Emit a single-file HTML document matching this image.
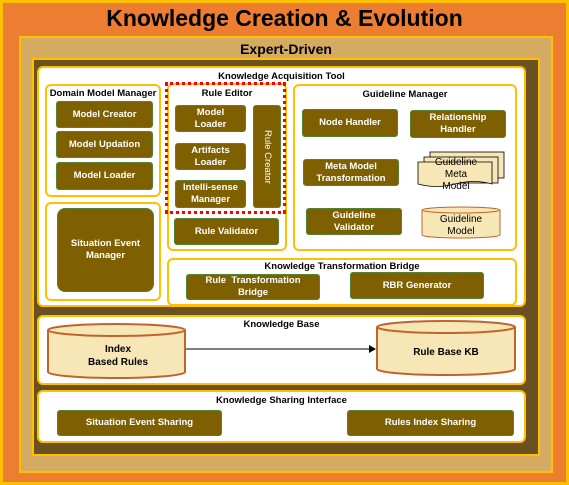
<!DOCTYPE html><html><head><style>
*{margin:0;padding:0;box-sizing:border-box}
body{width:569px;height:485px;position:relative;overflow:hidden;font-family:"Liberation Sans",sans-serif;background:#ED7D31}
div{position:absolute}
.w{background:#fff;border:2px solid #FFC000;border-radius:6px}
.b{background:#7F6000;border:1px solid #548235;border-radius:3px;color:#fff;font-weight:bold;font-size:9.5px;display:flex;align-items:center;justify-content:center;text-align:center;line-height:12px}
.l{font-size:9.5px;font-weight:bold;color:#000;text-align:center;white-space:nowrap}
</style></head><body>
<div style="left:0;top:0;width:569px;height:485px;border:3px solid #FFC000"></div>
<div class="l" style="left:0;top:4px;width:569px;font-size:23px;line-height:28px">Knowledge Creation &amp; Evolution</div>
<div style="left:19px;top:36px;width:534px;height:437px;background:#D5AB61;border:2px solid #FFC000"></div>
<div class="l" style="left:19px;top:41px;width:534px;font-size:14px">Expert-Driven</div>
<div style="left:32px;top:58px;width:508px;height:398px;background:#6B5020;border:2px solid #FFC000"></div>

<div class="w" style="left:37px;top:66px;width:489px;height:241px"></div>
<div class="l" style="left:37px;top:71px;width:489px">Knowledge Acquisition Tool</div>

<div class="w" style="left:45px;top:84px;width:116px;height:113px"></div>
<div class="l" style="left:45px;top:88px;width:116px">Domain Model Manager</div>
<div class="b" style="left:56px;top:101px;width:97px;height:27px">Model Creator</div>
<div class="b" style="left:56px;top:131px;width:97px;height:27px">Model Updation</div>
<div class="b" style="left:56px;top:162px;width:97px;height:28px">Model Loader</div>

<div class="w" style="left:45px;top:202px;width:116px;height:99px"></div>
<div class="b" style="left:57px;top:208px;width:97px;height:84px;border-radius:8px">Situation Event<br>Manager</div>

<div class="w" style="left:167px;top:83px;width:120px;height:168px"></div>
<div style="left:165px;top:82px;width:121px;height:132px;border:3px dotted #F00"></div>
<div class="l" style="left:167px;top:88px;width:120px">Rule Editor</div>
<div class="b" style="left:175px;top:105px;width:71px;height:27px">Model<br>Loader</div>
<div class="b" style="left:175px;top:143px;width:71px;height:27px">Artifacts<br>Loader</div>
<div class="b" style="left:175px;top:180px;width:71px;height:28px">Intelli-sense<br>Manager</div>
<div class="b" style="left:253px;top:105px;width:28px;height:103px"><span style="writing-mode:vertical-rl;font-weight:normal">Rule Creator</span></div>
<div class="b" style="left:174px;top:218px;width:105px;height:27px">Rule Validator</div>

<div class="w" style="left:293px;top:84px;width:224px;height:167px"></div>
<div class="l" style="left:293px;top:89px;width:224px">Guideline Manager</div>
<div class="b" style="left:302px;top:109px;width:96px;height:28px">Node Handler</div>
<div class="b" style="left:410px;top:110px;width:96px;height:28px">Relationship<br>Handler</div>
<div class="b" style="left:303px;top:159px;width:96px;height:27px">Meta Model<br>Transformation</div>
<div class="b" style="left:306px;top:208px;width:96px;height:27px">Guideline<br>Validator</div>
<svg style="position:absolute;left:0;top:0" width="569" height="485">
<g fill="#F7E6B6" stroke="#000" stroke-width="0.8">
<rect x="430" y="152" width="74" height="26"/>
<rect x="424" y="157" width="74" height="26"/>
<path d="M418 162h74v22q-18 -5 -37 0t-37 0z"/>
</g>
<text x="456" y="165" font-family="Liberation Sans" font-size="10" text-anchor="middle">Guideline</text>
<text x="456" y="177" font-family="Liberation Sans" font-size="10" text-anchor="middle">Meta</text>
<text x="456" y="189" font-family="Liberation Sans" font-size="10" text-anchor="middle">Model</text>
<g fill="#F7E6B6" stroke="#C0652A" stroke-width="1">
<path d="M422 210v25a39 3 0 0 0 78 0v-25"/><ellipse cx="461" cy="210" rx="39" ry="3"/>
</g>
<text x="461" y="222" font-family="Liberation Sans" font-size="10" text-anchor="middle">Guideline</text>
<text x="461" y="234" font-family="Liberation Sans" font-size="10" text-anchor="middle">Model</text>
</svg>

<div class="w" style="left:167px;top:258px;width:350px;height:48px"></div>
<div class="l" style="left:167px;top:261px;width:350px">Knowledge Transformation Bridge</div>
<div class="b" style="left:186px;top:274px;width:134px;height:26px">Rule&nbsp; Transformation<br>Bridge</div>
<div class="b" style="left:350px;top:272px;width:134px;height:27px">RBR Generator</div>

<div class="w" style="left:37px;top:315px;width:489px;height:70px"></div>
<div class="l" style="left:37px;top:319px;width:489px">Knowledge Base</div>
<svg style="position:absolute;left:0;top:0" width="569" height="485">
<g fill="#F7E6B6" stroke="#C0652A" stroke-width="2">
<path d="M48 330v42a68 6 0 0 0 137 0v-42"/><ellipse cx="116.5" cy="330" rx="68.5" ry="6"/>
<path d="M377 327v42a69 6 0 0 0 138 0v-42"/><ellipse cx="446" cy="327" rx="69" ry="6"/>
</g>
<line x1="186" y1="349" x2="370" y2="349" stroke="#000" stroke-width="1"/>
<path d="M369 345l7 4-7 4z" fill="#000"/>
<g font-family="Liberation Sans" font-size="10" font-weight="bold" text-anchor="middle">
<text x="118" y="352">Index</text><text x="118" y="365">Based Rules</text>
<text x="446" y="355">Rule Base KB</text></g>
</svg>

<div class="w" style="left:37px;top:390px;width:489px;height:53px"></div>
<div class="l" style="left:37px;top:395px;width:489px">Knowledge Sharing Interface</div>
<div class="b" style="left:57px;top:410px;width:165px;height:26px">Situation Event Sharing</div>
<div class="b" style="left:347px;top:410px;width:167px;height:26px">Rules Index Sharing</div>
</body></html>
